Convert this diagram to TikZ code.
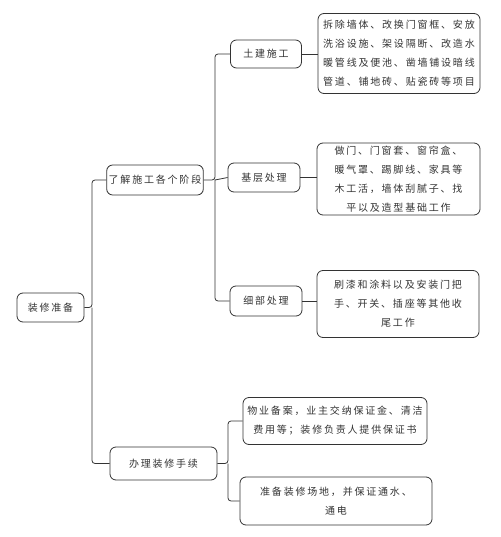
\documentclass[tikz,border=0pt]{standalone}
\usepackage{fontspec}
\newfontfamily\cjk[LetterSpace=18]{Noto Sans CJK SC}
\definecolor{ink}{HTML}{333333}
\tikzset{
  box/.style={draw=ink, line width=0.8pt, rounded corners=6pt, inner sep=2pt,
    font=\cjk\fontsize{10}{19}\selectfont, text=ink, align=center},
  link/.style={draw=ink, line width=0.8pt, rounded corners=3pt}
}
\begin{document}
\begin{tikzpicture}[x=1pt,y=-1pt]
\useasboundingbox (0,0) rectangle (500,537);
% nodes
\node[box, minimum width=67pt, minimum height=29pt] (root) at (50.5,307.5) {装修准备};
\node[box, minimum width=96pt, minimum height=30pt] (l1) at (155,180) {了解施工各个阶段};
\node[box, minimum width=107pt, minimum height=33pt] (l2) at (163.5,463.5) {办理装修手续};
\node[box, minimum width=71pt, minimum height=28pt] (a) at (266,54) {土建施工};
\node[box, minimum width=72pt, minimum height=29pt] (b) at (264,177.5) {基层处理};
\node[box, minimum width=72pt, minimum height=30pt] (c) at (266,301) {细部处理};
\node[box, minimum width=162pt, minimum height=80pt] (ad) at (399,53.5)
  {拆除墙体、改换门窗框、安放\\洗浴设施、架设隔断、改造水\\暖管线及便池、凿墙铺设暗线\\管道、铺地砖、贴瓷砖等项目};
\node[box, minimum width=163pt, minimum height=72pt] (bd) at (398.5,179)
  {做门、门窗套、窗帘盒、\\暖气罩、踢脚线、家具等\\木工活，墙体刮腻子、找\\平以及造型基础工作};
\node[box, minimum width=162pt, minimum height=67pt] (cd) at (398,304)
  {刷漆和涂料以及安装门把\\手、开关、插座等其他收\\尾工作};
\node[box, minimum width=184pt, minimum height=47pt] (d1) at (335,421)
  {物业备案，业主交纳保证金、清洁\\费用等；装修负责人提供保证书};
\node[box, minimum width=192pt, minimum height=48pt] (d2) at (336,501)
  {准备装修场地，并保证通水、\\通电};
% connectors
\coordinate (rj) at (92,307.5);
\coordinate (lj) at (215,180);
\coordinate (mj) at (228,463.5);
\draw[link] (root.east) -- (rj) |- (l1.west);
\draw[link] (rj) |- (l2.west);
\draw[link] (l1.east) -- (lj) |- (a.west);
\draw[link] (lj) |- (c.west);
\draw[link] (lj) -- (b.west);
\draw[link] (l2.east) -- (mj) |- (d1.west);
\draw[link] (mj) |- (d2.west);
\draw[link] (a.east) -- (ad.west |- a.east);
\draw[link] (b.east) -- (bd.west |- b.east);
\draw[link] (c.east) -- (cd.west |- c.east);
\end{tikzpicture}
\end{document}
